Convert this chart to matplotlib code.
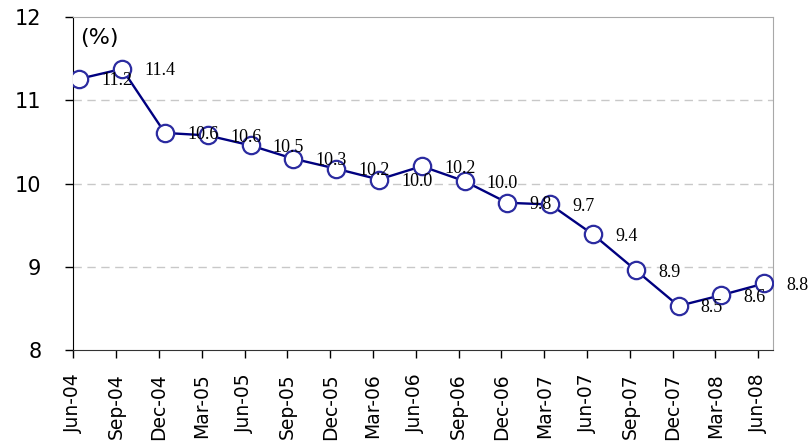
import numpy as np
import matplotlib
matplotlib.use("Agg")
import matplotlib.pyplot as plt
from matplotlib.transforms import ScaledTranslation

quarters = ["Jun-04", "Sep-04", "Dec-04", "Mar-05", "Jun-05", "Sep-05", "Dec-05",
            "Mar-06", "Jun-06", "Sep-06", "Dec-06", "Mar-07", "Jun-07", "Sep-07",
            "Dec-07", "Mar-08", "Jun-08"]
values = [11.26, 11.38, 10.61, 10.58, 10.46, 10.30, 10.18, 10.05, 10.21, 10.03,
          9.77, 9.75, 9.39, 8.96, 8.53, 8.66, 8.80]
value_labels = ["11.2", "11.4", "10.6", "10.6", "10.5", "10.3", "10.2", "10.0", "10.2",
                "10.0", "9.8", "9.7", "9.4", "8.9", "8.5", "8.6", "8.8"]
y_ticks = [8, 9, 10, 11, 12]

fig = plt.figure(figsize=(8.10, 4.46), dpi=100)
ax = fig.add_axes([0.0905, 0.2152, 0.8635, 0.746])

tick_pos = np.arange(len(quarters))
point_pos = tick_pos + 0.14

ax.plot(point_pos, values, color="#000080", lw=1.7, zorder=3,
        marker="o", markersize=12.5, markerfacecolor="white",
        markeredgecolor="#2b2ba0", markeredgewidth=1.6)

for x, y, t in zip(point_pos, values, value_labels):
    ax.annotate(t, (x, y), xytext=(16, 0), textcoords="offset points",
                ha="left", va="center_baseline", fontsize=13,
                family="Liberation Serif", color="black", zorder=4,
                annotation_clip=False)

ax.set_xlim(0, 16.34)
ax.set_ylim(8, 12)
ax.set_yticks(y_ticks)
ax.set_xticks(tick_pos)
ax.set_xticklabels(quarters, rotation=90, fontsize=13.5, family="DejaVu Sans")
for lbl in ax.get_xticklabels():
    lbl.set_transform(lbl.get_transform() + ScaledTranslation(9 / 100, 0, fig.dpi_scale_trans))
ax.tick_params(axis="x", direction="out", length=6, width=1, pad=11, colors="black")
ax.tick_params(axis="y", direction="out", length=6, width=1, pad=17, labelsize=15)

for y in [9, 10, 11]:
    ax.axhline(y, color="#c8c8c8", lw=1, ls=(0, (6, 4)), zorder=1)

ax.spines["top"].set_color("#a8a8a8")
ax.spines["right"].set_color("#a8a8a8")
ax.spines["left"].set_color("black")
ax.spines["bottom"].set_color("#333333")

ax.text(0.0096, 0.968, "(%)", transform=ax.transAxes, ha="left", va="top",
        fontsize=16, family="DejaVu Sans")

fig.savefig("out.png", dpi=100)
